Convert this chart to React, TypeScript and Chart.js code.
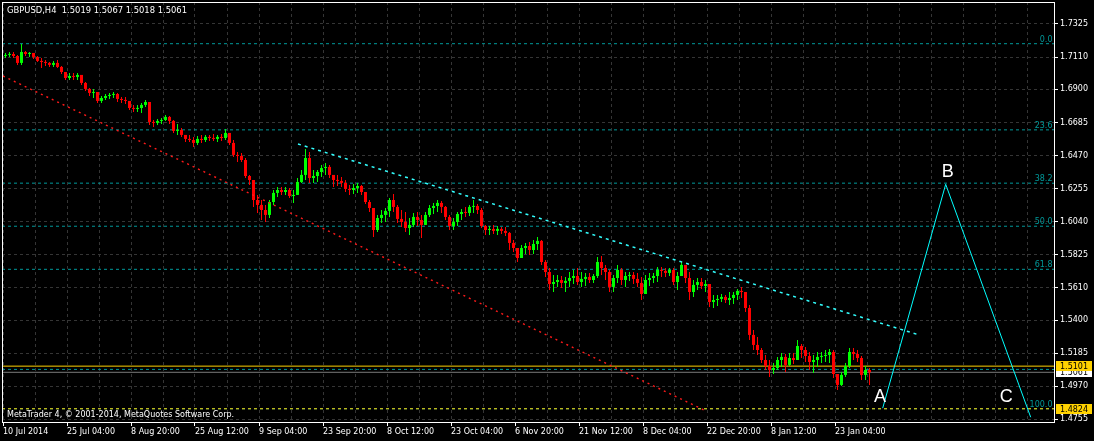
import React, { useEffect, useRef } from 'react';
import { Chart, registerables } from 'chart.js';

Chart.register(...registerables);

const chartTitle = 'GBPUSD,H4  1.5019 1.5067 1.5018 1.5061';
const copyrightText = 'MetaTrader 4, \u00A9 2001-2014, MetaQuotes Software Corp.';

const timeLabels = [
  '10 Jul 2014', '25 Jul 04:00', '8 Aug 20:00', '25 Aug 12:00', '9 Sep 04:00',
  '23 Sep 20:00', '8 Oct 12:00', '23 Oct 04:00', '6 Nov 20:00', '21 Nov 12:00',
  '8 Dec 04:00', '22 Dec 20:00', '8 Jan 12:00', '23 Jan 04:00',
];
const priceTicks = [
  1.7325, 1.711, 1.69, 1.6685, 1.647, 1.6255, 1.604, 1.5825, 1.561, 1.54, 1.5185, 1.497, 1.4755,
];

// each candle aggregates 4 H4 bars; open = previous close
const barSpan = 4;
const firstOpen = 1.7117;
const highs = [
  1.7137, 1.7143, 1.7143, 1.7124, 1.7195, 1.7149, 1.7143, 1.7137, 1.7117, 1.7104,
  1.7091, 1.7078, 1.7085, 1.7091, 1.7052, 1.7013, 1.7007, 1.7007, 1.7007, 1.6994,
  1.6948, 1.6909, 1.6903, 1.6883, 1.6857, 1.6870, 1.6877, 1.6883, 1.6877, 1.6851,
  1.6851, 1.6825, 1.6799, 1.6799, 1.6812, 1.6831, 1.6818, 1.6701, 1.6708, 1.6714,
  1.6734, 1.6727, 1.6701, 1.6675, 1.6649, 1.6604, 1.6604, 1.6591, 1.6597, 1.6604,
  1.6604, 1.6604, 1.6610, 1.6604, 1.6610, 1.6643, 1.6617, 1.6571, 1.6493, 1.6487,
  1.6454, 1.6344, 1.6311, 1.6214, 1.6181, 1.6149, 1.6181, 1.6246, 1.6266, 1.6266,
  1.6266, 1.6259, 1.6246, 1.6324, 1.6376, 1.6513, 1.6493, 1.6376, 1.6376, 1.6409,
  1.6422, 1.6409, 1.6344, 1.6344, 1.6331, 1.6311, 1.6279, 1.6285, 1.6292, 1.6279,
  1.6233, 1.6181, 1.6129, 1.6084, 1.6116, 1.6129, 1.6194, 1.6220, 1.6149, 1.6116,
  1.6103, 1.6064, 1.6097, 1.6103, 1.6084, 1.6103, 1.6149, 1.6162, 1.6181, 1.6175,
  1.6142, 1.6084, 1.6064, 1.6103, 1.6123, 1.6136, 1.6149, 1.6181, 1.6155, 1.6129,
  1.6019, 1.6012, 1.6019, 1.6012, 1.6006, 1.6006, 1.5973, 1.5921, 1.5869, 1.5889,
  1.5902, 1.5908, 1.5921, 1.5941, 1.5921, 1.5791, 1.5739, 1.5694, 1.5694, 1.5687,
  1.5681, 1.5713, 1.5726, 1.5739, 1.5713, 1.5707, 1.5707, 1.5700, 1.5811, 1.5817,
  1.5759, 1.5726, 1.5694, 1.5759, 1.5739, 1.5713, 1.5713, 1.5713, 1.5707, 1.5681,
  1.5694, 1.5707, 1.5707, 1.5746, 1.5746, 1.5739, 1.5739, 1.5739, 1.5713, 1.5778,
  1.5759, 1.5713, 1.5661, 1.5674, 1.5674, 1.5661, 1.5635, 1.5564, 1.5564, 1.5570,
  1.5564, 1.5583, 1.5583, 1.5603, 1.5616, 1.5583, 1.5499, 1.5336, 1.5291, 1.5219,
  1.5174, 1.5141, 1.5122, 1.5161, 1.5187, 1.5180, 1.5187, 1.5187, 1.5271, 1.5245,
  1.5226, 1.5193, 1.5174, 1.5193, 1.5193, 1.5206, 1.5213, 1.5206, 1.5050, 1.5063,
  1.5122, 1.5219, 1.5219, 1.5206, 1.5167, 1.5102, 1.5089,
];
const lows = [
  1.7104, 1.7111, 1.7104, 1.7059, 1.7059, 1.7117, 1.7111, 1.7098, 1.7078, 1.7039,
  1.7052, 1.7046, 1.7046, 1.7039, 1.7000, 1.6961, 1.6961, 1.6961, 1.6961, 1.6929,
  1.6890, 1.6857, 1.6844, 1.6812, 1.6812, 1.6831, 1.6838, 1.6844, 1.6818, 1.6812,
  1.6805, 1.6766, 1.6753, 1.6753, 1.6747, 1.6786, 1.6669, 1.6656, 1.6669, 1.6675,
  1.6695, 1.6675, 1.6617, 1.6604, 1.6591, 1.6558, 1.6558, 1.6526, 1.6539, 1.6552,
  1.6558, 1.6565, 1.6565, 1.6558, 1.6565, 1.6571, 1.6539, 1.6461, 1.6428, 1.6428,
  1.6324, 1.6279, 1.6136, 1.6097, 1.6051, 1.6038, 1.6064, 1.6149, 1.6201, 1.6214,
  1.6214, 1.6194, 1.6162, 1.6214, 1.6292, 1.6311, 1.6292, 1.6292, 1.6298, 1.6331,
  1.6344, 1.6324, 1.6266, 1.6272, 1.6266, 1.6233, 1.6214, 1.6220, 1.6227, 1.6214,
  1.6155, 1.6103, 1.5941, 1.5973, 1.6032, 1.6038, 1.6071, 1.6103, 1.6032, 1.6006,
  1.5973, 1.5954, 1.6006, 1.6012, 1.5934, 1.6019, 1.6071, 1.6090, 1.6103, 1.6097,
  1.6051, 1.5986, 1.5986, 1.6012, 1.6051, 1.6071, 1.6077, 1.6097, 1.6090, 1.5999,
  1.5954, 1.5954, 1.5960, 1.5954, 1.5960, 1.5947, 1.5856, 1.5843, 1.5778, 1.5804,
  1.5830, 1.5824, 1.5830, 1.5856, 1.5759, 1.5681, 1.5596, 1.5583, 1.5616, 1.5609,
  1.5583, 1.5616, 1.5635, 1.5629, 1.5616, 1.5622, 1.5642, 1.5642, 1.5674, 1.5694,
  1.5661, 1.5583, 1.5583, 1.5642, 1.5629, 1.5616, 1.5655, 1.5635, 1.5616, 1.5531,
  1.5570, 1.5622, 1.5642, 1.5648, 1.5681, 1.5681, 1.5687, 1.5629, 1.5596, 1.5687,
  1.5642, 1.5531, 1.5551, 1.5596, 1.5603, 1.5583, 1.5486, 1.5479, 1.5492, 1.5518,
  1.5512, 1.5499, 1.5505, 1.5531, 1.5544, 1.5453, 1.5271, 1.5206, 1.5174, 1.5122,
  1.5076, 1.5031, 1.5050, 1.5076, 1.5096, 1.5063, 1.5102, 1.5115, 1.5141, 1.5154,
  1.5128, 1.5076, 1.5056, 1.5096, 1.5122, 1.5128, 1.5122, 1.5024, 1.4946, 1.4972,
  1.5031, 1.5089, 1.5141, 1.5128, 1.5011, 1.5011, 1.4979,
];
const closes = [
  1.7124, 1.7130, 1.7117, 1.7072, 1.7143, 1.7130, 1.7137, 1.7111, 1.7085, 1.7078,
  1.7072, 1.7059, 1.7072, 1.7046, 1.7013, 1.6974, 1.6987, 1.6981, 1.6994, 1.6942,
  1.6903, 1.6877, 1.6883, 1.6825, 1.6844, 1.6857, 1.6864, 1.6870, 1.6838, 1.6831,
  1.6825, 1.6779, 1.6773, 1.6779, 1.6799, 1.6818, 1.6688, 1.6682, 1.6695, 1.6701,
  1.6721, 1.6695, 1.6630, 1.6636, 1.6604, 1.6578, 1.6571, 1.6552, 1.6578, 1.6571,
  1.6591, 1.6584, 1.6578, 1.6591, 1.6584, 1.6617, 1.6552, 1.6474, 1.6467, 1.6441,
  1.6337, 1.6311, 1.6181, 1.6149, 1.6116, 1.6084, 1.6168, 1.6227, 1.6246, 1.6233,
  1.6246, 1.6207, 1.6214, 1.6298, 1.6344, 1.6454, 1.6324, 1.6337, 1.6363, 1.6389,
  1.6396, 1.6344, 1.6311, 1.6305, 1.6292, 1.6253, 1.6246, 1.6259, 1.6272, 1.6233,
  1.6168, 1.6129, 1.5986, 1.6064, 1.6084, 1.6110, 1.6181, 1.6136, 1.6058, 1.6038,
  1.5999, 1.6019, 1.6071, 1.6051, 1.6019, 1.6084, 1.6129, 1.6142, 1.6162, 1.6136,
  1.6071, 1.6012, 1.6038, 1.6090, 1.6103, 1.6097, 1.6136, 1.6142, 1.6116, 1.6012,
  1.5986, 1.5993, 1.5980, 1.5993, 1.5980, 1.5967, 1.5902, 1.5869, 1.5804, 1.5869,
  1.5882, 1.5856, 1.5895, 1.5915, 1.5778, 1.5713, 1.5635, 1.5648, 1.5661, 1.5642,
  1.5655, 1.5674, 1.5687, 1.5648, 1.5668, 1.5681, 1.5661, 1.5687, 1.5778, 1.5739,
  1.5713, 1.5616, 1.5674, 1.5726, 1.5661, 1.5687, 1.5694, 1.5668, 1.5642, 1.5570,
  1.5661, 1.5674, 1.5687, 1.5726, 1.5720, 1.5707, 1.5726, 1.5648, 1.5687, 1.5759,
  1.5674, 1.5583, 1.5629, 1.5648, 1.5622, 1.5635, 1.5518, 1.5531, 1.5538, 1.5551,
  1.5531, 1.5544, 1.5564, 1.5590, 1.5583, 1.5479, 1.5304, 1.5239, 1.5206, 1.5141,
  1.5102, 1.5076, 1.5089, 1.5141, 1.5161, 1.5109, 1.5154, 1.5141, 1.5232, 1.5206,
  1.5167, 1.5128, 1.5141, 1.5161, 1.5167, 1.5174, 1.5193, 1.5050, 1.4979, 1.5044,
  1.5102, 1.5193, 1.5180, 1.5154, 1.5044, 1.5076, 1.5061,
];

// Fibonacci retracement
const fibHigh = 1.7197;
const fibLow = 1.4824;
const fibLevels = [0, 23.6, 38.2, 50, 61.8, 100];

// drawn objects (x in H4 bars from 10 Jul 2014)
const channelX = [0, 703];
const channelY = [1.6987, 1.481];
const trendX = [295, 916];
const trendY = [1.6545, 1.5304];
const abcX = [879.7, 942.7, 1027.7];
const abcY = [1.4828, 1.6283, 1.4769];
const abcNames = ['A', 'B', 'C'];
const abcLabelX = [877, 944.7, 1003.2];
const abcLabelY = [1.4902, 1.636, 1.4899];

const yellowLine = 1.5101;
const tealLine = 1.508;
const bidLine = 1.5061;
const yellowDashLine = 1.4824;

const xMin = -1;
const xMax = 1051;
const yMin = 1.4738;
const yMax = 1.7468;

const BULL = '#00FF00';
const BEAR = '#FF0000';
const GRID = '#353535';
const TEAL = '#00999A';
const GOLD = '#FFD200';
const FONT = 'DejaVu Sans';

function hline(v: number, color: string, dash: number[], order: number) {
  return {
    type: 'line' as const,
    data: [{ x: xMin, y: v }, { x: xMax, y: v }],
    borderColor: color,
    borderWidth: 1,
    borderDash: dash,
    pointRadius: 0,
    fill: false,
    order,
  };
}

const overlayPlugin = {
  id: 'mt4Overlay',
  beforeDraw(chart: any) {
    const { ctx, width, height } = chart;
    ctx.save();
    ctx.fillStyle = '#000';
    ctx.fillRect(0, 0, width, height);
    ctx.restore();
  },
  afterDraw(chart: any) {
    const { ctx, chartArea: ca } = chart;
    const xs = chart.scales.x;
    const ys = chart.scales.y;
    ctx.save();
    // frame
    ctx.strokeStyle = '#FFFFFF';
    ctx.lineWidth = 1;
    ctx.setLineDash([]);
    ctx.strokeRect(ca.left + 0.5, ca.top + 0.5, ca.right - ca.left, ca.bottom - ca.top);

    // header & copyright
    ctx.fillStyle = '#FFFFFF';
    ctx.textBaseline = 'middle';
    ctx.textAlign = 'left';
    ctx.font = `8.4px "${FONT}"`;
    ctx.fillText(chartTitle, 7, 11);
    ctx.font = `8px "${FONT}"`;
    ctx.fillText(copyrightText, 7, 415);

    // fib labels
    ctx.fillStyle = TEAL;
    ctx.textAlign = 'right';
    ctx.textBaseline = 'alphabetic';
    fibLevels.forEach((r) => {
      const v = fibHigh - ((fibHigh - fibLow) * r) / 100;
      const py = ys.getPixelForValue(v);
      ctx.fillText(r.toFixed(1), ca.right - 1.5, py - 2);
    });

    // ABC labels
    ctx.fillStyle = '#FFFFFF';
    ctx.textAlign = 'center';
    ctx.textBaseline = 'middle';
    ctx.font = '18px "Liberation Sans"';
    abcNames.forEach((n, i) => {
      ctx.fillText(n, xs.getPixelForValue(abcLabelX[i]), ys.getPixelForValue(abcLabelY[i]));
    });

    // price tags on the axis
    const tags = [
      { v: bidLine, bg: '#FFFFFF' },
      { v: yellowLine, bg: GOLD },
      { v: yellowDashLine, bg: GOLD },
    ];
    ctx.font = `8px "${FONT}"`;
    ctx.textAlign = 'left';
    tags.forEach((t) => {
      const py = Math.round(ys.getPixelForValue(t.v));
      ctx.fillStyle = t.bg;
      ctx.fillRect(ca.right + 2, py - 5, 36, 10);
      ctx.fillStyle = '#000000';
      ctx.fillText(t.v.toFixed(4), ca.right + 6, py + 0.5);
    });
    ctx.restore();
  },
};

export default function App() {
  const ref = useRef<HTMLCanvasElement>(null);

  useEffect(() => {
    document.body.style.margin = '0';
    document.body.style.background = '#000';
    const canvas = ref.current;
    if (!canvas) return;

    const opens = closes.map((_, i) => (i === 0 ? firstOpen : closes[i - 1]));
    const colors = closes.map((c, i) => (c >= opens[i] ? BULL : BEAR));
    const cx = closes.map((_, i) => i * barSpan + barSpan / 2 + 0.5);

    const fibPrices = fibLevels.map((r) => fibHigh - ((fibHigh - fibLow) * r) / 100);

    const datasets: any[] = [
      ...fibPrices.map((v) => hline(v, TEAL, [3, 3], 5)),
      hline(tealLine, TEAL, [3, 3], 5),
      hline(bidLine, '#7A7A7A', [], 5),
      hline(yellowLine, GOLD, [], 4),
      hline(yellowDashLine, GOLD, [3, 3], 4),
      {
        type: 'bar',
        data: cx.map((x, i) => ({ x, y: [lows[i], highs[i]] })),
        backgroundColor: colors,
        borderWidth: 0,
        barThickness: 1,
        grouped: false,
        inflateAmount: 0,
        order: 2,
      },
      {
        type: 'bar',
        data: cx.map((x, i) => ({ x, y: [opens[i], closes[i]] })),
        backgroundColor: colors,
        borderWidth: 0,
        barThickness: 3,
        grouped: false,
        inflateAmount: 0,
        minBarLength: 1,
        order: 1,
      },
      {
        type: 'line',
        data: channelX.map((x, i) => ({ x, y: channelY[i] })),
        borderColor: '#FF1A1A',
        borderWidth: 1.4,
        borderDash: [2, 4],
        pointRadius: 0,
        fill: false,
        order: 0,
      },
      {
        type: 'line',
        data: trendX.map((x, i) => ({ x, y: trendY[i] })),
        borderColor: '#33FFFF',
        borderWidth: 1.5,
        borderDash: [3, 4],
        pointRadius: 0,
        fill: false,
        order: 0,
      },
      {
        type: 'line',
        data: abcX.map((x, i) => ({ x, y: abcY[i] })),
        borderColor: '#00FFFF',
        borderWidth: 1,
        pointRadius: 0,
        fill: false,
        tension: 0,
        order: 0,
      },
    ];

    const chart = new Chart(canvas, {
      type: 'bar',
      data: { datasets },
      options: {
        animation: false,
        responsive: false,
        devicePixelRatio: 1,
        events: [],
        layout: { padding: { left: 2, top: 2, right: 0, bottom: 0 } },
        plugins: { legend: { display: false }, tooltip: { enabled: false }, title: { display: false } },
        scales: {
          x: {
            type: 'linear',
            position: 'bottom',
            min: xMin,
            max: xMax,
            offset: false,
            afterBuildTicks: (s: any) => {
              const t: any[] = [];
              for (let v = 0; v <= xMax; v += 32) t.push({ value: v });
              s.ticks = t;
            },
            afterFit: (s: any) => {
              s.height = 19;
              s.paddingLeft = 0;
              s.paddingRight = 0;
            },
            ticks: {
              autoSkip: false,
              maxRotation: 0,
              minRotation: 0,
              align: 'start',
              padding: 1,
              color: '#FFFFFF',
              font: { family: FONT, size: 8 },
              callback: (_v: any, i: number) => (i % 2 === 0 && timeLabels[i / 2] ? timeLabels[i / 2] : ''),
            },
            grid: {
              offset: false,
              color: GRID,
              lineWidth: 1,
              drawTicks: true,
              tickLength: 4,
              tickWidth: 1,
              tickColor: (c: any) => (c.tick && c.tick.label ? '#FFFFFF' : 'rgba(0,0,0,0)'),
            },
            border: { display: false, dash: [3, 3] },
          },
          y: {
            type: 'linear',
            position: 'right',
            min: yMin,
            max: yMax,
            afterBuildTicks: (s: any) => {
              s.ticks = priceTicks.map((v) => ({ value: v }));
            },
            afterFit: (s: any) => {
              s.width = 40;
              s.paddingTop = 0;
              s.paddingBottom = 0;
            },
            ticks: {
              autoSkip: false,
              padding: 2,
              color: '#FFFFFF',
              font: { family: FONT, size: 8 },
              callback: (v: any) => Number(v).toFixed(4),
            },
            grid: {
              color: GRID,
              lineWidth: 1,
              drawTicks: true,
              tickLength: 4,
              tickWidth: 1,
              tickColor: '#FFFFFF',
            },
            border: { display: false, dash: [3, 3] },
          },
        },
      },
      plugins: [overlayPlugin],
    } as any);

    return () => chart.destroy();
  }, []);

  return (
    <div style={{ width: 1094, height: 441, background: '#000' }}>
      <canvas ref={ref} width={1094} height={441} style={{ display: 'block', width: 1094, height: 441 }} />
    </div>
  );
}
